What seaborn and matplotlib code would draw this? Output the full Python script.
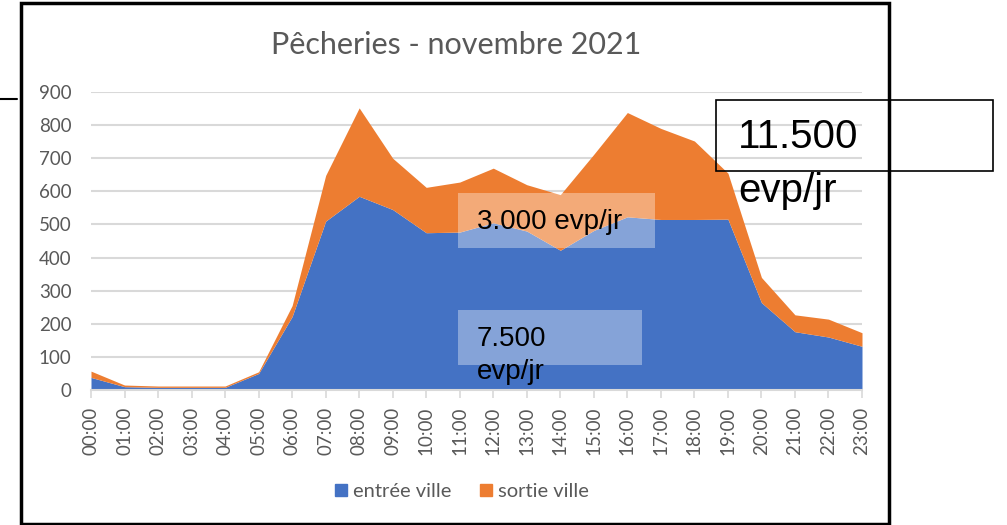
import numpy as np
import pandas as pd
import seaborn as sns
import matplotlib.pyplot as plt
from matplotlib.patches import Rectangle
from matplotlib.lines import Line2D

# hourly counts
hours = [f"{h:02d}:00" for h in range(24)]
entree = [38, 10, 8, 8, 8, 50, 222, 510, 585, 545, 475, 477, 505, 480, 422, 482,
          523, 515, 515, 516, 264, 176, 160, 132]
total = [57, 15, 12, 12, 12, 55, 255, 648, 852, 700, 612, 628, 670, 620, 590, 712,
         838, 790, 752, 655, 340, 227, 214, 173]
sortie = [t - e for t, e in zip(total, entree)]

title = "Pêcheries - novembre 2021"
series_names = ["entrée ville", "sortie ville"]
note_sortie = "3.000 evp/jr"
note_entree = "7.500\nevp/jr"
note_total = "11.500\nevp/jr"

BLUE = "#4472C4"
ORANGE = "#ED7D31"
GREY = "#595959"
GRID = "#D9D9D9"

W, H = 1007, 525

sns.set_theme(style="white")
plt.rcParams["font.family"] = ["Lato", "DejaVu Sans"]

df = pd.DataFrame({"hour": hours, "entree": entree, "sortie": sortie})
x = np.arange(len(df))

fig = plt.figure(figsize=(W / 100, H / 100), dpi=100)


def fx(px):
    return px / W


def fy(py):
    return 1 - py / H


ax = fig.add_axes([fx(91), fy(390), fx(862) - fx(91), fy(92) - fy(390)])
ax.stackplot(x, df["entree"], df["sortie"], colors=[BLUE, ORANGE], linewidth=0, zorder=2)
ax.set_xlim(0, 23)
ax.set_ylim(0, 900)
ax.set_yticks(range(0, 901, 100))
ax.set_xticks(x)
ax.set_xticklabels(df["hour"], rotation=90)
ax.yaxis.grid(True, color=GRID, linewidth=1.5, zorder=0)
ax.set_axisbelow(True)
sns.despine(ax=ax, left=True, top=True, right=True)
ax.spines["bottom"].set_color(GRID)
ax.spines["bottom"].set_linewidth(1.5)
ax.spines["bottom"].set_zorder(3)
ax.tick_params(axis="y", length=0, pad=14, labelsize=13.5, labelcolor=GREY)
ax.tick_params(axis="x", length=6, width=1.2, color=GRID, pad=6, labelsize=13.5,
               labelcolor=GREY, bottom=True)
ax.set_xlabel("")
ax.set_ylabel("")

fig.text(fx(456), fy(45), title, ha="center", va="center", fontsize=22, color=GREY)

handles = [Line2D([], [], marker="s", linestyle="", markersize=9, color=c) for c in (BLUE, ORANGE)]
fig.legend(handles, series_names, loc="center", bbox_to_anchor=(fx(460), fy(491)), ncol=2,
           frameon=False, fontsize=14.5, labelcolor=GREY, handletextpad=0.1, columnspacing=1.2,
           handlelength=1.0)

# outer chart frame
fig.patches.append(Rectangle((fx(21), fy(524)), fx(889) - fx(21), fy(3) - fy(524),
                             transform=fig.transFigure, fill=False, edgecolor="black",
                             linewidth=2.5, zorder=5))
# small stray line at top left
fig.add_artist(Line2D([fx(0), fx(17)], [fy(99), fy(99)], color="black", linewidth=1.5))

# translucent annotation boxes
fig.patches.append(Rectangle((fx(458), fy(248)), fx(655) - fx(458), fy(193) - fy(248),
                             transform=fig.transFigure, facecolor="white", alpha=0.35,
                             edgecolor="none", zorder=4))
fig.patches.append(Rectangle((fx(458), fy(365)), fx(642) - fx(458), fy(310) - fy(365),
                             transform=fig.transFigure, facecolor="white", alpha=0.35,
                             edgecolor="none", zorder=4))
fig.text(fx(477), fy(222), note_sortie, ha="left", va="center", fontsize=20,
         family="Liberation Sans", color="black", zorder=6)
fig.text(fx(477), fy(326), note_entree, ha="left", va="top", fontsize=20,
         family="Liberation Sans", color="black", linespacing=1.35, zorder=6)

# total box on the right
fig.patches.append(Rectangle((fx(716), fy(171)), fx(993) - fx(716), fy(100) - fy(171),
                             transform=fig.transFigure, fill=False, edgecolor="black",
                             linewidth=1.2, zorder=6))
fig.text(fx(738), fy(118), note_total, ha="left", va="top", fontsize=29,
         family="Liberation Sans", color="black", linespacing=1.55, zorder=6)

fig.savefig("out.png", dpi=100)
